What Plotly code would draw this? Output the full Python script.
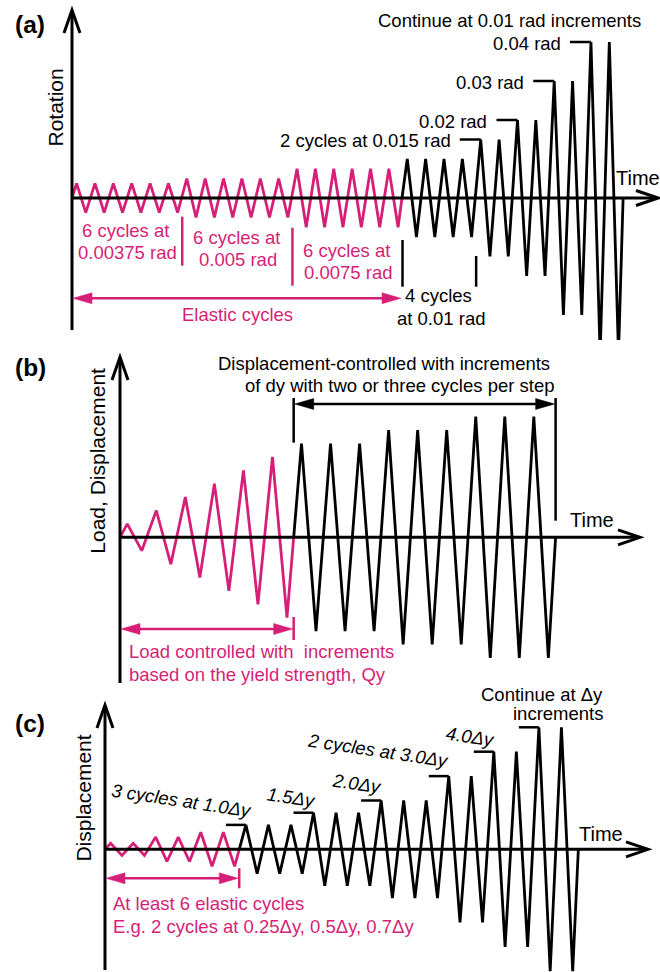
import plotly.graph_objects as go

W, H = 660, 972
MAG = "#D61F77"
BLK = "#000000"
FONT = "Liberation Sans, Arial, Helvetica, sans-serif"

# ------------------------------------------------------------------ data
# (a) rotation history: amplitude of each step (rad) and number of cycles
a_steps = [0.00375, 0.005, 0.0075, 0.01, 0.015, 0.02, 0.03, 0.04]
a_cycles = [6, 6, 6, 4, 2, 2, 2, 2]
a_elastic_steps = 3
a_elastic_labels = [["6 cycles at", "0.00375 rad"], ["6 cycles at", "0.005 rad"], ["6 cycles at", "0.0075 rad"]]
a_step_labels = ["2 cycles at 0.015 rad", "0.02 rad", "0.03 rad", "0.04 rad"]   # steps 5..8

# (b) load / displacement history (relative amplitude units)
b_steps = [1, 2, 3, 4, 5, 6, 7, 8, 9]
b_cycles = [1, 1, 1, 1, 1, 1, 3, 3, 3]
b_load_steps = 6

# (c) displacement history (multiples of Δy)
c_steps = [0.25, 0.5, 0.7, 1.0, 1.5, 2.0, 3.0, 4.0, 5.0]
c_cycles = [2, 2, 2, 3, 3, 3, 2, 2, 2]
c_elastic_steps = 3
c_step_labels = ["3 cycles at 1.0Δy", "1.5Δy", "2.0Δy", "2 cycles at 3.0Δy", "4.0Δy", None]  # steps 4..9

# ------------------------------------------------------------------ layout (pixels)
PAN = {
    "a": dict(X0=72, CW=18.37, Y0=198.0, S=3900.0, top=0, bot=340, ax_top=10, ax_bot=330, ax_end=658),
    "b": dict(X0=120, CW=29.04, Y0=537.3, S=13.4, top=340, bot=690, ax_top=357, ax_bot=683, ax_end=640),
    "c": dict(X0=105, CW=22.54, Y0=849.3, S=24.4, top=690, bot=972, ax_top=705, ax_bot=970, ax_end=648),
}


def PX(p, c):
    return PAN[p]["X0"] + c * PAN[p]["CW"]


def PY(p, v):
    return PAN[p]["Y0"] - v * PAN[p]["S"]


shapes = []
annotations = []


def path(points, color=BLK, width=2.5, fill=None):
    d = "M " + " L ".join(f"{x / W:.5f},{1 - y / H:.5f}" for x, y in points)
    if fill:
        d += " Z"
    shapes.append(dict(type="path", path=d, xref="paper", yref="paper", layer="above",
                       line=dict(color=color, width=width if not fill else 0.5),
                       fillcolor=fill if fill else "rgba(0,0,0,0)"))


def text(px, py, s, size=18.5, color=BLK, xanchor="center", angle=0, bold=False):
    annotations.append(dict(x=px / W, y=1 - py / H, xref="paper", yref="paper", text=s,
                            showarrow=False, xanchor=xanchor, yanchor="middle", textangle=angle,
                            font=dict(family=FONT, size=size, color=color,
                                      weight="bold" if bold else "normal")))


def darrow(x1, x2, y, color, L=19, hw=5.5):
    path([(x1 + L * 0.5, y), (x2 - L * 0.5, y)], color, 2.5)
    path([(x1, y), (x1 + L, y - hw), (x1 + L, y + hw)], color, fill=color)
    path([(x2, y), (x2 - L, y - hw), (x2 - L, y + hw)], color, fill=color)


def axes(p, ylabel, ylab_x, tag, tag_y, time_xy):
    P = PAN[p]
    x0, y0 = P["X0"], P["Y0"]
    path([(x0, P["ax_bot"]), (x0, P["ax_top"] + 1)], BLK, 3)
    path([(x0 - 8, P["ax_top"] + 23), (x0, P["ax_top"]), (x0 + 8, P["ax_top"] + 23)], BLK, 3)
    path([(x0, y0), (P["ax_end"] - 1, y0)], BLK, 3)
    path([(P["ax_end"] - 22, y0 - 7.5), (P["ax_end"], y0), (P["ax_end"] - 22, y0 + 7.5)], BLK, 3)
    text(ylab_x, ylabel[1], ylabel[0], size=21, angle=-90)
    text(30, tag_y, tag, size=24.5, bold=True)
    text(time_xy[0], time_xy[1], "Time", size=20, xanchor="left")


def zigzag(steps, cycles, n_first):
    amps = []
    for s, n in zip(steps, cycles):
        amps += [s] * n
    xs, ys = [0.0], [0.0]
    for i, a in enumerate(amps):
        xs += [i + 0.25, i + 0.75]
        ys += [a, -a]
    xs.append(float(len(amps)))
    ys.append(0.0)
    m = sum(cycles[:n_first])
    am, ab = amps[m - 1], amps[m]
    xc = m - 0.25 + 0.5 * am / (am + ab)
    k = 2 * m + 1
    first = (xs[:k] + [xc], ys[:k] + [0.0])
    second = ([xc] + xs[k:], [0.0] + ys[k:])
    return first, second, xc


fig = go.Figure()

for idx, (p, steps, cycles, nf) in enumerate([("a", a_steps, a_cycles, a_elastic_steps),
                                              ("b", b_steps, b_cycles, b_load_steps),
                                              ("c", c_steps, c_cycles, c_elastic_steps)]):
    first, second, xc = zigzag(steps, cycles, nf)
    PAN[p]["xc"] = xc
    sfx = "" if idx == 0 else str(idx + 1)
    fig.add_trace(go.Scatter(x=first[0], y=first[1], mode="lines", line=dict(color=MAG, width=2.8),
                             xaxis="x" + sfx, yaxis="y" + sfx, hoverinfo="skip", showlegend=False))
    fig.add_trace(go.Scatter(x=second[0], y=second[1], mode="lines", line=dict(color=BLK, width=2.8),
                             xaxis="x" + sfx, yaxis="y" + sfx, hoverinfo="skip", showlegend=False))
    P = PAN[p]
    fig.layout["xaxis" + sfx] = dict(domain=[0, 1], range=[(0 - P["X0"]) / P["CW"], (W - P["X0"]) / P["CW"]],
                                     visible=False, fixedrange=True, anchor="y" + sfx)
    fig.layout["yaxis" + sfx] = dict(domain=[1 - P["bot"] / H, 1 - P["top"] / H],
                                     range=[(P["Y0"] - P["bot"]) / P["S"], (P["Y0"] - P["top"]) / P["S"]],
                                     visible=False, fixedrange=True, anchor="x" + sfx)

# ------------------------------------------------------------------ panel (a)
axes("a", ("Rotation", 107.5), 55, "(a)", 25, (614, 178))
text(509, 20, "Continue at 0.01 rad increments")
for j, lab in enumerate(a_step_labels):
    k = 4 + j
    pc = sum(a_cycles[:k]) + 0.25
    xp, yp = PX("a", pc), PY("a", a_steps[k])
    path([(xp - 21, yp), (xp, yp)], BLK, 2.5)
    text(xp - 28, yp + 1.5, lab, xanchor="right")
# elastic group ticks and labels
a_tick_spans = [(216.7, 265.7), (227.7, 285.7)]
for j in range(2):
    xt = PX("a", sum(a_cycles[:j + 1]))
    path([(xt, a_tick_spans[j][0]), (xt, a_tick_spans[j][1])], MAG, 2.5)
a_lab_pos = [(125.5, 230.7), (236.5, 237.7), (346.5, 250.7)]
for (l1, l2), (x, y) in zip(a_elastic_labels, a_lab_pos):
    text(x, y, l1, color=MAG)
    text(x + 1.5, y + 22, l2, color=MAG)
darrow(PAN["a"]["X0"] + 1, PX("a", PAN["a"]["xc"]) - 1, 298.3, MAG)
text(237.5, 314, "Elastic cycles", color=MAG)
# 4 cycles at 0.01 rad
path([(PX("a", PAN["a"]["xc"]) + 0.5, 240), (PX("a", PAN["a"]["xc"]) + 0.5, 286.7)], BLK, 2.5)
xt = PX("a", sum(a_cycles[:4]))
path([(xt, 256), (xt, 286.7)], BLK, 2.5)
text(438, 296, "4 cycles")
text(441, 318.3, "at 0.01 rad")

# ------------------------------------------------------------------ panel (b)
axes("b", ("Load, Displacement", 461), 96.7, "(b)", 367, (568, 520))
xcb = PX("b", PAN["b"]["xc"])
xeb = PX("b", sum(b_cycles))
path([(xcb, 398), (xcb, 442.7)], BLK, 2.5)
path([(xeb, 398), (xeb, 520.7)], BLK, 2.5)
darrow(xcb + 1, xeb - 1, 404, BLK)
text(552, 363.3, "Displacement-controlled with increments", xanchor="right")
text(557, 385.7, "of dy with two or three cycles per step", xanchor="right")
path([(xcb, 617), (xcb, 640)], MAG, 2.5)
darrow(PAN["b"]["X0"] + 1, xcb - 1, 629, MAG)
text(127, 651.7, "Load controlled with\u00a0 increments", color=MAG, xanchor="left")
text(127, 674, "based on the yield strength, Qy", color=MAG, xanchor="left")

# ------------------------------------------------------------------ panel (c)
axes("c", ("Displacement", 798.3), 83.3, "(c)", 723, (576.5, 834))
c_lab_pos = [(181.7, 800), (291.7, 797.3), (356.7, 783.3), (378, 750.7), (470, 736.7), None]
for j, lab in enumerate(c_step_labels):
    k = 3 + j
    pc = sum(c_cycles[:k]) + 0.25
    xp, yp = PX("c", pc), PY("c", c_steps[k])
    path([(xp - 20, yp), (xp, yp)], BLK, 2.5)
    if lab:
        text(c_lab_pos[j][0], c_lab_pos[j][1], "<i>" + lab + "</i>", angle=8.5)
text(605, 694, "Continue at Δy", xanchor="right")
text(605, 713.3, "increments", xanchor="right")
xcc = PX("c", PAN["c"]["xc"])
path([(xcc, 868.3), (xcc, 888.3)], MAG, 2.5)
darrow(PAN["c"]["X0"] + 1, xcc - 1, 878.3, MAG)
text(111, 903.3, "At least 6 elastic cycles", color=MAG, xanchor="left")
text(111, 926, "E.g. 2 cycles at 0.25Δy, 0.5Δy, 0.7Δy", color=MAG, xanchor="left")

fig.update_layout(width=W, height=H, margin=dict(l=0, r=0, t=0, b=0),
                  paper_bgcolor="white", plot_bgcolor="white",
                  shapes=shapes, annotations=annotations, showlegend=False)
fig.write_html("out.html", config=dict(displayModeBar=False))
